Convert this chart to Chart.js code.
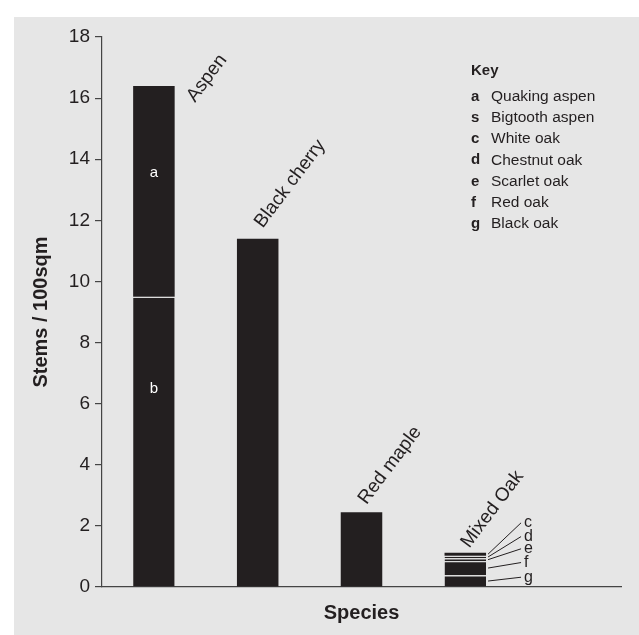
<!DOCTYPE html>
<html lang="en">
<head>
    <meta charset="UTF-8">
    <title>Stems / 100sqm by species</title>
    <script src="https://cdn.jsdelivr.net/npm/chart.js@4"></script>
    <style>
        body {
            margin: 0;
            background: #ffffff;
            font-family: "Liberation Sans", Arial, sans-serif;
        }
        #panel {
            position: absolute;
            left: 14px;
            top: 17px;
            width: 625px;
            height: 618px;
            background: #e6e6e6;
        }
    </style>
</head>
<body>
    <div id="panel"><canvas id="grafica"></canvas></div>

    <script>
        // Categorías (la última queda vacía)
        const categories = ['Aspen', 'Black cherry', 'Red maple', 'Mixed Oak', ''];

        // Segmentos de cada barra, de abajo hacia arriba
        const aspen = [9.5, 6.9];            // b, a
        const aspenLetters = ['b', 'a'];
        const aspenLetterValues = [6.5, 13.55];
        const blackCherry = [11.4];
        const redMaple = [2.45];
        const mixedOak = [0.39, 0.46, 0.09, 0.085, 0.10];  // g, f, e, d, c
        const oakLetters = ['g', 'f', 'e', 'd', 'c'];
        const oakLetterValues = [0.32, 0.80, 1.25, 1.65, 2.10];

        const yTicks = [0, 2, 4, 6, 8, 10, 12, 14, 16, 18];

        const keyLetters = ['a', 's', 'c', 'd', 'e', 'f', 'g'];
        const keyNames = ['Quaking aspen', 'Bigtooth aspen', 'White oak', 'Chestnut oak', 'Scarlet oak', 'Red oak', 'Black oak'];

        // Desplazamiento de cada etiqueta inclinada respecto al centro y tope de la barra
        const labelOffsets = [[41, 17], [5, -10], [5, -7], [4, -4]];
        const labelAngle = 53 * Math.PI / 180;

        const INK = '#231f20';
        const FONT = '"Liberation Sans", Arial, Helvetica, sans-serif';

        const barras = [aspen, blackCherry, redMaple, mixedOak];
        const datasets = [];
        barras.forEach((partes, i) => {
            partes.forEach((v, j) => {
                const esTope = j === partes.length - 1;
                datasets.push({
                    data: categories.map((_, k) => k === i ? v : null),
                    backgroundColor: INK,
                    borderColor: '#dcdcdc',
                    borderWidth: { top: esTope ? 0 : 1.3, left: 0, right: 0, bottom: 0 },
                    borderSkipped: false,
                    categoryPercentage: 1,
                    barPercentage: 0.4
                });
            });
        });

        function totalDe(i) {
            return barras[i].reduce((a, b) => a + b, 0);
        }

        const anotaciones = {
            id: 'anotaciones',
            afterDatasetsDraw(chart) {
                const ctx = chart.ctx;
                const x = chart.scales.x;
                const y = chart.scales.y;
                const area = chart.chartArea;
                const meta0 = chart.getDatasetMeta(0).data[0];
                const mitadAncho = meta0.width / 2;
                ctx.save();
                ctx.fillStyle = INK;
                ctx.strokeStyle = INK;

                // Nombres inclinados sobre cada barra
                ctx.font = '19px ' + FONT;
                ctx.textAlign = 'left';
                ctx.textBaseline = 'alphabetic';
                barras.forEach((_, i) => {
                    const cx = x.getPixelForValue(i) + labelOffsets[i][0];
                    const cy = y.getPixelForValue(totalDe(i)) + labelOffsets[i][1];
                    ctx.save();
                    ctx.translate(cx, cy);
                    ctx.rotate(-labelAngle);
                    ctx.fillText(categories[i], 0, 0);
                    ctx.restore();
                });

                // Letras dentro de la barra de Aspen
                ctx.fillStyle = '#ffffff';
                ctx.font = '15px ' + FONT;
                ctx.textAlign = 'center';
                ctx.textBaseline = 'middle';
                aspenLetters.forEach((l, j) => {
                    ctx.fillText(l, x.getPixelForValue(0), y.getPixelForValue(aspenLetterValues[j]));
                });

                // Llamadas de Mixed Oak
                ctx.fillStyle = INK;
                ctx.lineWidth = 1;
                ctx.font = '16px ' + FONT;
                ctx.textAlign = 'left';
                const borde = x.getPixelForValue(3) + mitadAncho;
                let acumulado = 0;
                mixedOak.forEach((v, j) => {
                    const medio = y.getPixelForValue(acumulado + v / 2);
                    acumulado += v;
                    const ly = y.getPixelForValue(oakLetterValues[j]);
                    ctx.beginPath();
                    ctx.moveTo(borde + 2, medio);
                    ctx.lineTo(borde + 35, ly);
                    ctx.stroke();
                    ctx.fillText(oakLetters[j], borde + 38, ly);
                });

                // Clave
                const kx = area.right - 150;
                ctx.textBaseline = 'middle';
                ctx.font = 'bold 15px ' + FONT;
                ctx.fillText('Key', kx, area.top + 34);
                keyLetters.forEach((l, j) => {
                    const ky = area.top + 60 + j * 21.1;
                    ctx.font = 'bold 15px ' + FONT;
                    ctx.fillText(l, kx, ky);
                    ctx.font = '15.5px ' + FONT;
                    ctx.fillText(keyNames[j], kx + 20, ky);
                });
                ctx.restore();
            }
        };

        new Chart(document.getElementById('grafica'), {
            type: 'bar',
            data: { labels: categories, datasets: datasets },
            plugins: [anotaciones],
            options: {
                responsive: true,
                maintainAspectRatio: false,
                animation: false,
                layout: { padding: { top: 20, right: 18, left: 0, bottom: 0 } },
                plugins: {
                    legend: { display: false },
                    tooltip: { enabled: false }
                },
                scales: {
                    x: {
                        stacked: true,
                        ticks: { display: false },
                        grid: { drawOnChartArea: false, drawTicks: false },
                        border: { display: true, color: '#444444', width: 1.2 },
                        title: {
                            display: true,
                            text: 'Species',
                            color: INK,
                            font: { family: FONT, size: 20, weight: 'bold' },
                            padding: { top: 10, bottom: 10 }
                        },
                        afterFit(scale) { scale.height = 48; }
                    },
                    y: {
                        stacked: true,
                        min: 0,
                        max: 18,
                        afterBuildTicks(scale) {
                            scale.ticks = yTicks.map(v => ({ value: v }));
                        },
                        ticks: {
                            color: INK,
                            padding: 5,
                            font: { family: FONT, size: 19 }
                        },
                        grid: { drawOnChartArea: false, tickLength: 7, color: '#444444', lineWidth: 1.2 },
                        border: { display: true, color: '#444444', width: 1.2 },
                        title: {
                            display: true,
                            text: 'Stems / 100sqm',
                            color: INK,
                            font: { family: FONT, size: 20, weight: 'bold' },
                            padding: { top: 15, bottom: 0 }
                        },
                        afterFit(scale) { scale.width = 88; }
                    }
                }
            }
        });
    </script>
</body>
</html>
